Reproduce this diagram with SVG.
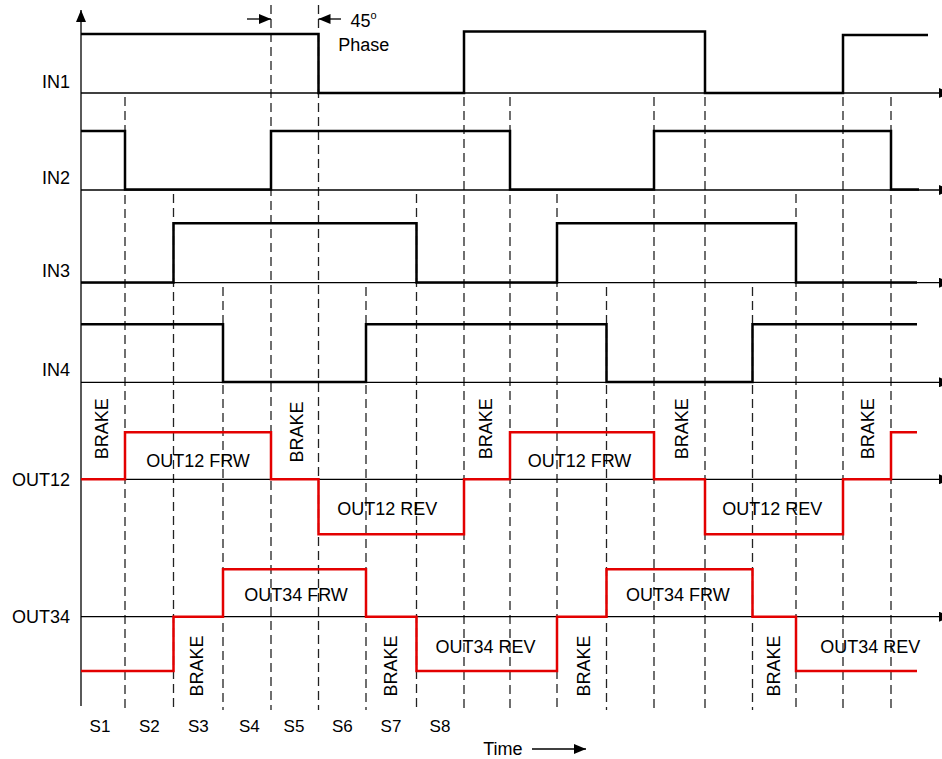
<svg xmlns="http://www.w3.org/2000/svg" width="942" height="759" viewBox="0 0 942 759">
<style>
text{font-family:"Liberation Sans",Arial,sans-serif;font-size:18px;fill:#000}
.lbl{text-anchor:end}
.mid{text-anchor:middle}
.s{font-size:17px;text-anchor:middle}
.wave{fill:none;stroke:#000;stroke-width:2.5}
.out{fill:none;stroke:#e30000;stroke-width:2.5}
.axis{fill:none;stroke:#000;stroke-width:1.3}
.dash{fill:none;stroke:#222;stroke-width:1.3;stroke-dasharray:9 5}
</style>
<defs>
<marker id="ah" viewBox="0 0 12 10" markerWidth="12" markerHeight="10" refX="12" refY="5" orient="auto" markerUnits="userSpaceOnUse">
<path d="M0,0 L12,5 L0,10 z" fill="#000"/>
</marker>
</defs>
<rect width="942" height="759" fill="#fff"/>
<g id="connectors">
<g id="grid">
<line class="dash" x1="271" y1="5" x2="271" y2="710"/>
<line class="dash" x1="318.5" y1="5" x2="318.5" y2="710"/>
<line class="dash" x1="125" y1="97" x2="125" y2="710"/>
<line class="dash" x1="464" y1="97" x2="464" y2="710"/>
<line class="dash" x1="510" y1="97" x2="510" y2="710"/>
<line class="dash" x1="654" y1="97" x2="654" y2="710"/>
<line class="dash" x1="705" y1="97" x2="705" y2="710"/>
<line class="dash" x1="843" y1="97" x2="843" y2="710"/>
<line class="dash" x1="891" y1="97" x2="891" y2="710"/>
<line class="dash" x1="173.5" y1="194" x2="173.5" y2="710"/>
<line class="dash" x1="416.5" y1="194" x2="416.5" y2="710"/>
<line class="dash" x1="557" y1="194" x2="557" y2="710"/>
<line class="dash" x1="796" y1="194" x2="796" y2="710"/>
<line class="dash" x1="223" y1="287" x2="223" y2="710"/>
<line class="dash" x1="366" y1="287" x2="366" y2="710"/>
<line class="dash" x1="606.5" y1="287" x2="606.5" y2="710"/>
<line class="dash" x1="752.5" y1="287" x2="752.5" y2="710"/>
</g>
<g id="axes">
<line class="axis" x1="81" y1="706" x2="81" y2="10" marker-end="url(#ah)"/>
<line class="axis" x1="81" y1="93" x2="951" y2="93" marker-end="url(#ah)"/>
<line class="axis" x1="81" y1="190" x2="951" y2="190" marker-end="url(#ah)"/>
<line class="axis" x1="81" y1="282.7" x2="951" y2="282.7" marker-end="url(#ah)"/>
<line class="axis" x1="81" y1="382.3" x2="951" y2="382.3" marker-end="url(#ah)"/>
<line class="axis" x1="81" y1="479.3" x2="951" y2="479.3" marker-end="url(#ah)"/>
<line class="axis" x1="81" y1="616.7" x2="951" y2="616.7" marker-end="url(#ah)"/>
</g>
<g id="phase-arrows">
<line class="axis" x1="247" y1="19" x2="271" y2="19" marker-end="url(#ah)"/>
<line class="axis" x1="341" y1="19" x2="318.5" y2="19" marker-end="url(#ah)"/>
<line class="axis" x1="532" y1="749" x2="586" y2="749" marker-end="url(#ah)"/>
</g>
</g>
<g id="IN1">
<path class="wave" d="M81,34 H318.5 V93 H464 V31.5 H705 V93 H843 V35 H928"/>
<text class="lbl" x="70" y="87.5">IN1</text>
</g>
<g id="IN2">
<path class="wave" d="M81,131 H125 V189.5 H271 V131 H510 V189.5 H654 V131 H891 V189.5 H919"/>
<text class="lbl" x="70" y="184">IN2</text>
</g>
<g id="IN3">
<path class="wave" d="M81,282.5 H173.5 V223.3 H416.5 V282.5 H557 V223.3 H796 V282.5 H917"/>
<text class="lbl" x="70" y="276.7">IN3</text>
</g>
<g id="IN4">
<path class="wave" d="M81,324.3 H223 V382 H366 V324.3 H606.5 V382 H752.5 V324.3 H917"/>
<text class="lbl" x="70" y="375.7">IN4</text>
</g>
<g id="OUT12">
<path class="out" d="M81,479.3 H125 V432.3 H271 V479.3 H318.5 V534.3 H464 V479.3 H510 V432.3 H654 V479.3 H705 V534.3 H843 V479.3 H891 V432.3 H917"/>
<text class="lbl" x="70" y="485.5">OUT12</text>
<text class="mid" x="198" y="466.5">OUT12 FRW</text>
<text class="mid" x="579.5" y="466.5">OUT12 FRW</text>
<text class="mid" x="387.3" y="515">OUT12 REV</text>
<text class="mid" x="772.3" y="515">OUT12 REV</text>
<text class="mid" transform="translate(108.2,428.7) rotate(-90)">BRAKE</text>
<text class="mid" transform="translate(302.5,432) rotate(-90)">BRAKE</text>
<text class="mid" transform="translate(491.5,428.7) rotate(-90)">BRAKE</text>
<text class="mid" transform="translate(688.2,428.7) rotate(-90)">BRAKE</text>
<text class="mid" transform="translate(873.8,428.7) rotate(-90)">BRAKE</text>
</g>
<g id="OUT34">
<path class="out" d="M81,671 H173.5 V616.7 H223 V569.3 H366 V616.7 H416.5 V671 H557 V616.7 H606.5 V569.3 H752.5 V616.7 H796 V671 H917"/>
<text class="lbl" x="70" y="622.5">OUT34</text>
<text class="mid" x="296" y="601">OUT34 FRW</text>
<text class="mid" x="677.8" y="601">OUT34 FRW</text>
<text class="mid" x="485.5" y="652.5">OUT34 REV</text>
<text class="mid" x="870.3" y="652.5">OUT34 REV</text>
<text class="mid" transform="translate(203.2,666) rotate(-90)">BRAKE</text>
<text class="mid" transform="translate(396.5,666) rotate(-90)">BRAKE</text>
<text class="mid" transform="translate(589.8,666) rotate(-90)">BRAKE</text>
<text class="mid" transform="translate(779.8,666) rotate(-90)">BRAKE</text>
</g>
<g id="states">
<text class="s" x="100" y="732.3">S1</text>
<text class="s" x="149.3" y="732.3">S2</text>
<text class="s" x="198.3" y="732.3">S3</text>
<text class="s" x="249.3" y="732.3">S4</text>
<text class="s" x="294" y="732.3">S5</text>
<text class="s" x="342.3" y="732.3">S6</text>
<text class="s" x="391" y="732.3">S7</text>
<text class="s" x="440" y="732.3">S8</text>
</g>
<g id="annotations">
<text x="350.5" y="27">45<tspan font-size="11" dy="-8">o</tspan></text>
<text x="338.3" y="50.5">Phase</text>
<text x="483.3" y="755">Time</text>
</g>
</svg>
